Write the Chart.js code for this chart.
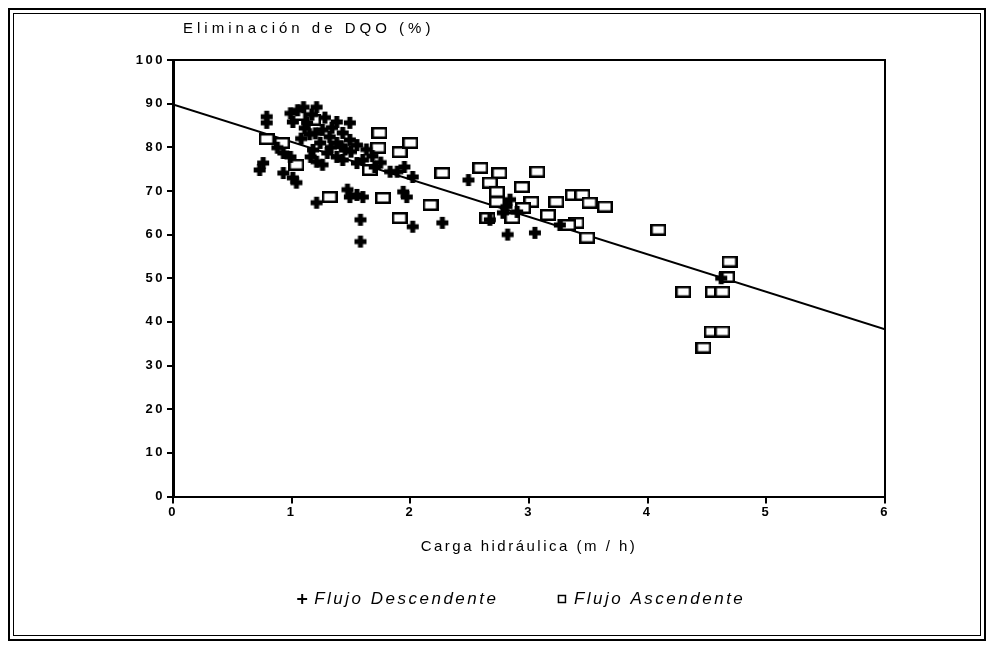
<!DOCTYPE html>
<html lang="es">
<head>
<meta charset="utf-8">
<title>Eliminación de DQO</title>
<script src="https://cdn.jsdelivr.net/npm/chart.js@4.4.1/dist/chart.umd.min.js"></script>
<style>
  html, body { margin: 0; padding: 0; background: #fff; }
  #lienzo { position: absolute; left: 0; top: 0; width: 991px; height: 648px; }
  .marco1 { position: absolute; left: 8px; top: 8px; width: 974px; height: 629px; border: 2px solid #000; }
  .marco2 { position: absolute; left: 13px; top: 13px; width: 966px; height: 621px; border: 1px solid #000; }
  #titulo-y {
    position: absolute; left: 183px; top: 19px;
    font: 15px "Liberation Sans", Arial, sans-serif;
    letter-spacing: 4px; color: #000; white-space: nowrap;
  }
</style>
</head>
<body>
<div id="lienzo"><canvas id="grafico"></canvas></div>
<div class="marco1"></div>
<div class="marco2"></div>
<div id="titulo-y">Eliminación de DQO (%)</div>

<script>
/* =========================================================
   DATOS
========================================================= */

// Flujo descendente (+)
const descX = [0.79, 0.79, 0.99, 1.10, 1.21, 1.01, 1.13, 1.26, 1.38, 1.49,
               1.32, 1.43, 1.24, 1.38, 1.49, 1.55, 1.18, 1.30, 1.38, 1.21,
               1.26, 1.43, 1.55, 1.60, 1.83, 1.89, 2.02, 0.88, 0.93, 0.99,
               0.76, 0.73, 0.93, 1.01, 1.04, 1.21, 1.47, 1.55, 1.49, 1.58,
               1.58, 1.94, 1.97, 2.02, 2.27, 1.60, 2.49, 2.82, 3.05, 2.81,
               2.84, 2.78, 2.90, 3.26, 2.67, 1.11, 1.15, 1.45, 1.70, 4.62,
               1.05, 1.17, 1.28, 1.34, 1.20, 1.08, 1.42, 1.50, 1.33, 1.16,
               1.63, 1.68, 1.75, 1.95];
const descY = [87.0, 85.6, 87.8, 89.2, 89.2, 85.8, 85.6, 84.0, 85.8, 85.6,
               82.4, 83.3, 81.0, 81.0, 81.7, 80.5, 79.4, 78.7, 77.8, 76.7,
               76.0, 77.1, 76.4, 77.1, 74.4, 74.4, 73.2, 79.9, 78.7, 77.8,
               76.4, 74.8, 74.1, 73.0, 71.9, 67.3, 70.3, 69.1, 68.6, 63.4,
               58.4, 69.8, 68.6, 61.8, 62.7, 68.6, 72.5, 60.0, 60.4, 66.4,
               68.0, 65.0, 65.2, 62.2, 63.4, 84.4, 83.0, 79.5, 75.5, 50.0,
               88.5, 87.5, 86.8, 84.5, 83.2, 82.0, 80.2, 79.0, 80.0, 77.8,
               79.5, 78.0, 76.5, 75.5];

// Flujo ascendente (cuadrados)
const ascX = [0.79, 0.92, 1.04, 1.05, 1.18, 1.74, 1.73, 1.91, 2.00, 1.66,
              2.27, 1.32, 1.77, 2.17, 1.91, 2.59, 2.75, 3.07, 2.67, 2.73,
              2.94, 2.73, 3.02, 2.65, 2.86, 3.37, 3.45, 3.23, 3.51, 3.64,
              3.16, 3.40, 3.49, 3.33, 2.95, 4.09, 4.69, 4.67, 4.30, 4.55,
              4.63, 4.54, 4.63, 4.47];
const ascY = [81.9, 81.0, 76.0, 87.4, 86.3, 83.3, 79.9, 78.9, 81.0, 74.8,
              74.1, 68.6, 68.4, 66.8, 63.8, 75.3, 74.1, 74.4, 71.9, 69.8,
              70.9, 67.5, 67.5, 63.8, 63.8, 69.1, 69.1, 67.5, 67.3, 66.4,
              64.5, 62.7, 59.3, 62.2, 66.1, 61.1, 53.8, 50.3, 46.9, 46.9,
              46.9, 37.8, 37.8, 34.1];

// Recta de regresión
const rectaX = [0, 6];
const rectaY = [89.8, 38.3];

// Marcas de los ejes
const ticksX = [0, 1, 2, 3, 4, 5, 6];
const ticksY = [0, 10, 20, 30, 40, 50, 60, 70, 80, 90, 100];

const nombres = ['Flujo Descendente', 'Flujo Ascendente'];


/* =========================================================
   SÍMBOLOS
========================================================= */

function crearCruz() {
  const c = document.createElement('canvas');
  c.width = 14; c.height = 14;
  const g = c.getContext('2d');
  g.strokeStyle = '#000';
  g.lineWidth = 5;
  g.beginPath();
  g.moveTo(1, 7); g.lineTo(13, 7);
  g.moveTo(7, 1); g.lineTo(7, 13);
  g.stroke();
  return c;
}

function crearCuadro() {
  const c = document.createElement('canvas');
  c.width = 16; c.height = 12;
  const g = c.getContext('2d');
  g.fillStyle = '#fff';
  g.fillRect(0, 0, 16, 12);
  g.strokeStyle = '#000';
  g.lineWidth = 2.5;
  g.strokeRect(1.25, 1.25, 13.5, 9.5);
  return c;
}

const puntos = (xs, ys) => xs.map((x, i) => ({ x, y: ys[i] }));


/* =========================================================
   PLUGINS
========================================================= */

// Espaciado de letras como en el original escaneado
const espaciado = {
  id: 'espaciado',
  beforeLayout(chart) { chart.ctx.letterSpacing = '2.5px'; },
  beforeDraw(chart) { chart.ctx.letterSpacing = '2.5px'; }
};

// La leyenda va centrada bajo el área del gráfico
const centrarLeyenda = {
  id: 'centrarLeyenda',
  afterLayout(chart) {
    const a = chart.chartArea;
    const l = chart.legend;
    const d = (a.left + a.right) / 2 - 7 - (l.left + l.right) / 2;
    l.left += d;
    l.right += d;
  }
};

// Lados superior y derecho del recuadro
const recuadro = {
  id: 'recuadro',
  afterDraw(chart) {
    const { ctx, chartArea: a } = chart;
    ctx.save();
    ctx.strokeStyle = '#000';
    ctx.lineWidth = 2;
    ctx.beginPath();
    ctx.moveTo(a.left, a.top);
    ctx.lineTo(a.right, a.top);
    ctx.lineTo(a.right, a.bottom);
    ctx.stroke();
    ctx.restore();
  }
};


/* =========================================================
   GRÁFICO
========================================================= */

const fuenteTicks = { family: '"Liberation Sans", Arial, sans-serif', size: 13, weight: 'bold' };

new Chart(document.getElementById('grafico'), {
  type: 'scatter',
  data: {
    datasets: [
      {
        label: nombres[0],
        data: puntos(descX, descY),
        pointStyle: crearCruz(),
        pointRadius: 6,
        order: 0
      },
      {
        label: nombres[1],
        data: puntos(ascX, ascY),
        pointStyle: crearCuadro(),
        pointRadius: 6,
        order: 1
      },
      {
        label: 'recta',
        data: puntos(rectaX, rectaY),
        showLine: true,
        borderColor: '#000',
        borderWidth: 2,
        pointRadius: 0,
        order: 2
      }
    ]
  },
  options: {
    responsive: true,
    maintainAspectRatio: false,
    animation: false,
    color: '#000',
    layout: {
      padding: { top: 60, right: 106, bottom: 30.5, left: 123 }
    },
    plugins: {
      tooltip: { enabled: false },
      legend: {
        position: 'bottom',
        labels: {
          usePointStyle: true,
          boxWidth: 7,
          boxHeight: 7,
          padding: 60,
          color: '#000',
          font: { family: '"Liberation Sans", Arial, sans-serif', size: 17, style: 'italic' },
          generateLabels: () => [
            { text: nombres[0], pointStyle: 'cross', strokeStyle: '#000', fillStyle: '#000', lineWidth: 2, datasetIndex: 0 },
            { text: nombres[1], pointStyle: 'rect', strokeStyle: '#000', fillStyle: '#fff', lineWidth: 1.5, datasetIndex: 1 }
          ]
        }
      }
    },
    scales: {
      x: {
        type: 'linear',
        min: 0,
        max: 6,
        afterBuildTicks: s => { s.ticks = ticksX.map(v => ({ value: v })); },
        afterFit: s => { s.height = 34; },
        border: { display: true, color: '#000', width: 2 },
        grid: { drawOnChartArea: false, drawTicks: true, tickLength: 7, color: '#000', lineWidth: 2 },
        ticks: { color: '#000', font: fuenteTicks, padding: 1, maxRotation: 0 },
        title: {
          display: true,
          text: 'Carga hidráulica (m / h)',
          color: '#000',
          font: { family: '"Liberation Sans", Arial, sans-serif', size: 15 },
          padding: { top: 0, bottom: -25.5 }
        }
      },
      y: {
        type: 'linear',
        min: 0,
        max: 100,
        afterBuildTicks: s => { s.ticks = ticksY.map(v => ({ value: v })); },
        afterFit: s => { s.width = 50; },
        border: { display: true, color: '#000', width: 3 },
        grid: { drawOnChartArea: false, drawTicks: true, tickLength: 6, color: '#000', lineWidth: 2 },
        ticks: { color: '#000', font: fuenteTicks, padding: 2 }
      }
    }
  },
  plugins: [espaciado, centrarLeyenda, recuadro]
});
</script>
</body>
</html>
